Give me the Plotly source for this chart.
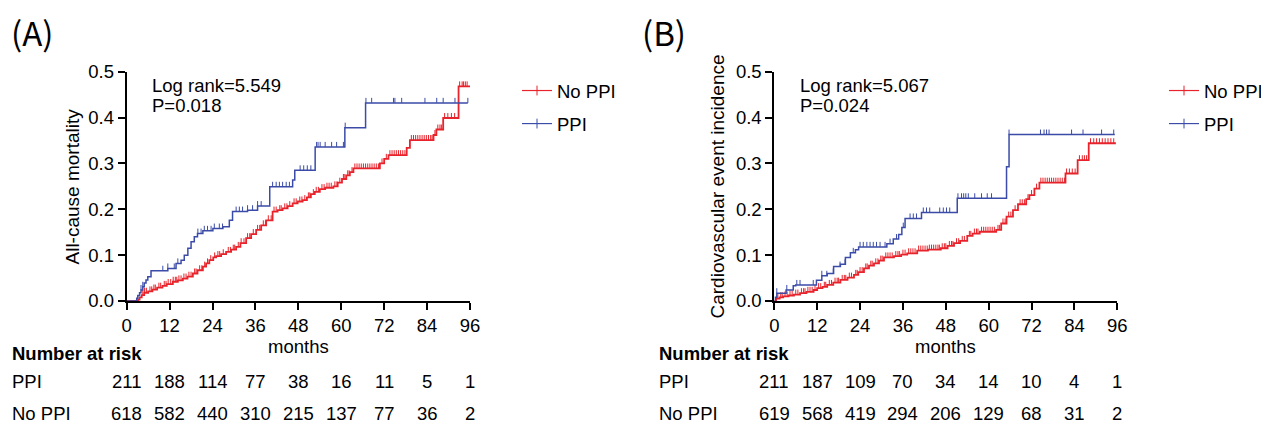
import numpy as np
import plotly.graph_objects as go

W, H = 1269, 425          # browser window
OFF = 8                   # default page body margin
WF, HF = W - OFF, H - OFF  # figure size so that it fits the window
FONT = "Liberation Sans, Arial, sans-serif"
RED = "#E8232B"
BLUE = "#3B4BA8"
FS = 18.5

# ---------------- Panel A: all-cause mortality ----------------
a_noppi_t = [0, 3.2, 3.6, 4.2, 4.9, 6.0, 7.2, 8.5, 10.0, 11.2, 12.9, 14.3, 15.7, 17.0, 18.5, 19.8,
             21.3, 22.2, 23.1, 24.2, 25.0, 26.4, 27.8, 29.2, 30.6, 31.8, 33.4, 34.8, 36.2, 37.6,
             39.0, 40.8, 42.2, 43.6, 45.0, 46.4, 47.8, 49.2, 50.4, 51.5, 52.6, 54.0, 55.5, 57.8,
             59.0, 60.2, 61.4, 62.4, 63.4, 70.8, 72.0, 73.2, 78.3, 79.2, 85.8, 86.6, 88.5, 92.8]
a_noppi_v = [0, 0.003, 0.008, 0.013, 0.018, 0.021, 0.025, 0.029, 0.033, 0.037, 0.042, 0.045, 0.049,
             0.053, 0.060, 0.067, 0.075, 0.082, 0.089, 0.095, 0.098, 0.102, 0.107, 0.112, 0.118,
             0.126, 0.137, 0.146, 0.155, 0.165, 0.176, 0.195, 0.198, 0.202, 0.207, 0.213, 0.217,
             0.220, 0.226, 0.233, 0.238, 0.244, 0.247, 0.250, 0.258, 0.266, 0.274, 0.281, 0.289,
             0.300, 0.310, 0.318, 0.334, 0.351, 0.362, 0.374, 0.399, 0.468]
a_noppi_end = 96.0
a_noppi_cens = [4.5, 5.0, 5.5, 6.5, 7.0, 7.6, 8.0, 9.0, 9.5, 10.5, 11.0, 11.6, 12.3, 13.0, 13.6,
                14.0, 14.6, 15.2, 16.0, 16.6, 17.4, 18.0, 19.0, 19.4, 20.4, 21.0, 21.8, 22.6,
                23.5, 24.6, 25.5, 26.0, 27.0, 28.4, 29.0, 29.8, 30.2, 31.2, 32.0, 32.8, 33.8,
                34.4, 35.4, 36.6, 37.2, 38.2, 38.8, 39.6, 40.4, 41.2, 41.8, 42.8, 43.2, 44.2,
                44.8, 45.6, 46.8, 47.4, 48.4, 49.0, 49.8, 50.8, 51.2, 52.2, 53.0, 53.6, 54.6,
                55.2, 56.0, 56.6, 57.2, 58.2, 58.8, 59.6, 60.6, 61.0, 61.8, 62.2, 63.0, 63.8,
                64.4, 65.0, 65.6, 66.2, 66.8, 67.4, 68.0, 68.6, 69.2, 69.8, 70.4, 71.4, 72.6,
                73.6, 74.2, 74.8, 75.4, 76.0, 76.6, 77.2, 77.8, 79.6, 80.2, 80.8, 81.4, 82.0,
                82.6, 83.2, 83.8, 84.4, 85.0, 85.4, 86.2, 87.0, 87.6, 88.0, 88.9, 89.8, 90.8,
                91.7, 93.1, 93.8, 94.2, 94.7, 95.2]

a_ppi_t = [0, 2.8, 3.1, 3.6, 4.0, 4.5, 4.9, 5.4, 5.9, 6.8, 11.5, 13.8, 15.2, 16.1, 17.1, 18.0,
           18.9, 19.8, 21.3, 24.1, 26.9, 28.7, 29.6, 33.8, 36.6, 40.0, 46.4, 47.0, 52.7, 61.0,
           66.8]
a_ppi_v = [0, 0.006, 0.012, 0.018, 0.024, 0.031, 0.039, 0.046, 0.053, 0.066, 0.071, 0.082,
           0.089, 0.100, 0.115, 0.129, 0.140, 0.147, 0.153, 0.158, 0.162, 0.176, 0.195, 0.198,
           0.207, 0.249, 0.264, 0.285, 0.336, 0.378, 0.432]
a_ppi_end = 95.4
a_ppi_cens = [4.0, 4.5, 10.1, 11.5, 13.3, 14.3, 19.9, 20.8, 21.7, 22.6, 23.6, 24.5, 25.9, 26.8,
              30.6, 31.5, 32.4, 33.8, 35.2, 36.6, 37.6, 40.8, 41.8, 42.7, 43.6, 44.6, 45.5,
              48.5, 49.5, 50.5, 51.5, 53.1, 53.5, 54.1, 55.5, 57.3, 58.7, 60.6, 61.1, 66.9,
              68.5, 74.6, 75.0, 76.9, 83.4, 86.7, 88.5, 91.8, 95.4]

# ---------------- Panel B: cardiovascular events ----------------
b_noppi_t = [0, 0.5, 1.5, 2.5, 4.0, 5.5, 7.2, 9.0, 11.0, 12.0, 13.5, 14.8, 16.5, 18.5, 20.5,
             22.3, 23.5, 25.1, 26.5, 27.9, 29.3, 30.7, 33.5, 35.5, 37.2, 40.0, 43.0, 46.6, 48.5,
             50.3, 52.0, 54.0, 55.5, 57.5, 62.1, 63.5, 65.0, 66.8, 68.2, 70.5, 71.4, 72.8, 74.2,
             81.5, 84.9, 88.0]
b_noppi_v = [0, 0.005, 0.008, 0.010, 0.012, 0.014, 0.017, 0.020, 0.024, 0.028, 0.031, 0.035,
             0.040, 0.046, 0.051, 0.057, 0.063, 0.071, 0.077, 0.082, 0.088, 0.095, 0.098, 0.101,
             0.104, 0.110, 0.112, 0.115, 0.120, 0.126, 0.131, 0.142, 0.147, 0.151, 0.155, 0.169,
             0.184, 0.198, 0.211, 0.222, 0.231, 0.245, 0.258, 0.278, 0.307, 0.344]
b_noppi_end = 95.6
b_noppi_cens = [1.0, 1.8, 2.2, 3.0, 3.6, 4.4, 5.0, 6.0, 6.6, 7.6, 8.2, 8.6, 9.4, 10.0, 10.6,
                11.4, 12.4, 13.0, 14.0, 14.4, 15.4, 16.0, 17.0, 17.6, 18.0, 19.0, 19.6, 20.0,
                21.0, 21.6, 22.8, 23.2, 24.0, 24.6, 25.6, 26.0, 27.0, 27.4, 28.4, 29.0, 29.8,
                30.2, 31.2, 31.8, 32.4, 33.0, 34.0, 34.6, 35.0, 36.0, 36.6, 37.6, 38.2, 38.8,
                39.4, 40.4, 41.0, 41.6, 42.2, 42.8, 43.4, 44.0, 44.6, 45.2, 45.8, 46.2, 47.0,
                47.6, 48.0, 49.0, 49.6, 50.0, 51.0, 51.6, 52.6, 53.2, 54.6, 55.0, 56.0, 56.6,
                57.0, 58.0, 58.6, 59.2, 59.8, 60.4, 61.0, 61.6, 62.6, 63.0, 64.0, 64.6, 65.6,
                66.2, 67.4, 68.8, 69.4, 70.0, 71.0, 72.0, 73.4, 74.6, 75.2, 75.8, 76.4, 77.0,
                77.6, 78.2, 78.8, 79.4, 80.0, 80.6, 81.2, 81.8, 82.6, 83.4, 84.2, 85.4, 86.2,
                86.8, 87.4, 88.5, 89.4, 90.2, 91.0, 91.8, 92.6, 93.4, 94.2, 95.0]

b_ppi_t = [0, 0.3, 0.7, 3.3, 5.3, 6.0, 11.8, 13.3, 14.8, 16.6, 18.5, 19.9, 21.3, 22.7, 23.6,
           31.5, 33.3, 34.8, 35.7, 36.6, 41.2, 51.2, 65.0, 65.7]
b_ppi_v = [0, 0.008, 0.017, 0.024, 0.033, 0.035, 0.045, 0.055, 0.060, 0.075, 0.080, 0.095,
           0.105, 0.112, 0.118, 0.125, 0.135, 0.145, 0.160, 0.180, 0.193, 0.224, 0.293, 0.363]
b_ppi_end = 95.3
b_ppi_cens = [0.7, 3.5, 6.3, 7.2, 10.9, 13.3, 14.7, 16.5, 18.4, 19.8, 22.1, 24.0, 24.9, 25.9,
              26.8, 27.7, 28.6, 29.6, 31.0, 32.4, 34.2, 36.1, 38.0, 38.9, 39.8, 41.7, 42.6,
              43.5, 46.3, 47.3, 48.2, 49.1, 51.4, 52.4, 53.0, 53.6, 54.3, 56.1, 58.0, 59.6,
              60.8, 65.7, 74.5, 75.5, 76.2, 76.9, 83.2, 86.4, 91.6, 95.0]

# ---------------- Number at risk ----------------
risk_times = [0, 12, 24, 36, 48, 60, 72, 84, 96]
a_risk_ppi = [211, 188, 114, 77, 38, 16, 11, 5, 1]
a_risk_noppi = [618, 582, 440, 310, 215, 137, 77, 36, 2]
b_risk_ppi = [211, 187, 109, 70, 34, 14, 10, 4, 1]
b_risk_noppi = [619, 568, 419, 294, 206, 129, 68, 31, 2]

x_ticks = [0, 12, 24, 36, 48, 60, 72, 84, 96]
y_ticks = [0.0, 0.1, 0.2, 0.3, 0.4, 0.5]

# ---------------- layout geometry (page pixels -> paper) ----------------
def px(x):
    return (x - OFF) / WF

def py(y):
    return 1 - (y - OFF) / HF

AX_A = (126.7, 470.0)
AX_B = (774.3, 1117.3)
AX_Y = (71.7, 301.0)
PLOT_H = AX_Y[1] - AX_Y[0]
TICK_PX = 5.0
tick_h = TICK_PX / PLOT_H * 0.5

fig = go.Figure()


def add_curve(t, v, end, cens, color, width, xa, ya):
    xs = list(t) + [end]
    ys = list(v) + [v[-1]]
    fig.add_trace(go.Scatter(x=xs, y=ys, mode="lines", line=dict(color=color, width=width, shape="hv"),
                             xaxis=xa, yaxis=ya, showlegend=False, hoverinfo="skip"))
    tt = np.array(t)
    vv = np.array(v)
    cy = [float(vv[np.searchsorted(tt, c, side="right") - 1]) for c in cens]
    fig.add_trace(go.Scatter(x=cens, y=cy, mode="markers", marker=dict(size=1, color=color, opacity=0),
                             error_y=dict(type="constant", symmetric=False, value=tick_h, valueminus=0,
                                          width=0, thickness=1, color=color),
                             xaxis=xa, yaxis=ya, showlegend=False, hoverinfo="skip", cliponaxis=False))


def add_legend(name, color, legend, group):
    fig.add_trace(go.Scatter(x=[None], y=[None], mode="lines+markers", name=name,
                             line=dict(color=color, width=1.2),
                             marker=dict(symbol="line-ns", size=7, line=dict(color=color, width=1)),
                             legend=legend, legendgroup=group))


add_curve(a_noppi_t, a_noppi_v, a_noppi_end, a_noppi_cens, RED, 1.8, "x", "y")
add_curve(a_ppi_t, a_ppi_v, a_ppi_end, a_ppi_cens, BLUE, 1.5, "x", "y")
add_curve(b_noppi_t, b_noppi_v, b_noppi_end, b_noppi_cens, RED, 1.8, "x2", "y2")
add_curve(b_ppi_t, b_ppi_v, b_ppi_end, b_ppi_cens, BLUE, 1.5, "x2", "y2")

add_legend("No PPI", RED, "legend", "a1")
add_legend("PPI", BLUE, "legend", "a2")
add_legend("No PPI", RED, "legend2", "b1")
add_legend("PPI", BLUE, "legend2", "b2")

axis_common = dict(showline=True, linecolor="black", linewidth=2, ticks="outside", ticklen=7,
                   tickwidth=2, tickcolor="black", showgrid=False, zeroline=False,
                   tickfont=dict(family=FONT, size=FS, color="black"), layer="below traces",
                   fixedrange=True, automargin=False)
xa = dict(axis_common, range=[0, 96], tickvals=x_ticks, ticktext=[str(v) for v in x_ticks])
ya = dict(axis_common, range=[0, 0.5], tickvals=y_ticks, ticktext=[f"{v:.1f}" for v in y_ticks])

ann = []


def text(x, y, s, size=FS, xanchor="left", yanchor="middle", xref="paper", bold=False,
         family=FONT, angle=0):
    ann.append(dict(x=x, y=y, xref=xref, yref="paper", text=f"<b>{s}</b>" if bold else s,
                    showarrow=False, xanchor=xanchor, yanchor=yanchor, textangle=angle,
                    font=dict(family=family, size=size, color="black")))


# panel titles
text(px(9), py(32), "(A)", size=33, family="Noto Sans CJK SC, sans-serif")
text(px(640), py(32), "(B)", size=33, family="Noto Sans CJK SC, sans-serif")
# y titles
text(px(72), py(186.5), "All-cause mortality", xanchor="center", angle=-90, size=19)
text(px(717), py(186.5), "Cardiovascular event incidence", xanchor="center", angle=-90, size=19)
# stats
text(px(150), py(86), "Log rank=5.549")
text(px(150), py(106), "P=0.018")
text(px(798), py(86), "Log rank=5.067")
text(px(798), py(106), "P=0.024")
# x titles
text(48, py(346.7), "months", xanchor="center", xref="x")
text(48, py(346.7), "months", xanchor="center", xref="x2")
# risk tables
for xoff, xr, rp, rn in [(10, "x", a_risk_ppi, a_risk_noppi), (657, "x2", b_risk_ppi, b_risk_noppi)]:
    text(px(xoff), py(353), "Number at risk", bold=True)
    text(px(xoff), py(381.7), "PPI")
    text(px(xoff), py(413), "No PPI")
    for t, a, b in zip(risk_times, rp, rn):
        text(t, py(381.7), str(a), xanchor="center", xref=xr)
        text(t, py(413), str(b), xanchor="center", xref=xr)

legend_common = dict(font=dict(family=FONT, size=FS, color="black"), bgcolor="rgba(0,0,0,0)",
                     borderwidth=0, tracegroupgap=6, xanchor="left", yanchor="top",
                     itemclick=False, itemdoubleclick=False)

fig.update_layout(
    width=WF, height=HF, margin=dict(l=0, r=0, t=0, b=0, autoexpand=False),
    paper_bgcolor="white", plot_bgcolor="white",
    xaxis=dict(xa, domain=[px(AX_A[0]), px(AX_A[1])], anchor="y"),
    yaxis=dict(ya, domain=[py(AX_Y[1]), py(AX_Y[0])], anchor="x"),
    xaxis2=dict(xa, domain=[px(AX_B[0]), px(AX_B[1])], anchor="y2"),
    yaxis2=dict(ya, domain=[py(AX_Y[1]), py(AX_Y[0])], anchor="x2"),
    legend=dict(legend_common, x=px(517), y=py(72)),
    legend2=dict(legend_common, x=px(1164), y=py(72)),
    annotations=ann,
    showlegend=True,
)

fig.write_html("out.html")
